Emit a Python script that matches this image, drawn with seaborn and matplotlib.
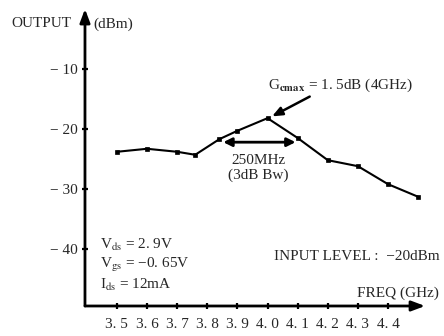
import numpy as np
import pandas as pd
import matplotlib
matplotlib.use("Agg")
import matplotlib.pyplot as plt
import seaborn as sns

# values
freq = [3.5, 3.6, 3.7, 3.76, 3.84, 3.9, 4.0, 4.1, 4.2, 4.3, 4.4, 4.5]
output = [-23.8, -23.3, -23.8, -24.3, -21.7, -20.3, -18.2, -21.5, -25.2, -26.2, -29.2, -31.3]
xticks = [3.5, 3.6, 3.7, 3.8, 3.9, 4.0, 4.1, 4.2, 4.3, 4.4]
xticklabels = ["3. 5", "3. 6", "3. 7", "3. 8", "3. 9", "4. 0", "4. 1", "4. 2", "4. 3", "4. 4"]
yticks = [-10, -20, -30, -40]
yticklabels = ["\u2212 10", "\u2212 20", "\u2212 30", "\u2212 40"]
bw_lo, bw_hi, bw_y = 3.853, 4.093, -22.2

sns.set_style("white")
plt.rcParams['font.family'] = ['Liberation Serif', 'DejaVu Serif']
plt.rcParams['mathtext.fontset'] = 'stix'

fig = plt.figure(figsize=(4.44, 3.36), dpi=100)
ax = fig.add_axes([0.1914, 0.0893, 0.766, 0.884])

df = pd.DataFrame({"freq": freq, "output": output})
sns.lineplot(data=df, x="freq", y="output", ax=ax, sort=False, color="black",
             lw=1.5, marker="s", markersize=3.5, markerfacecolor="black",
             markeredgecolor="black", markeredgewidth=0.5)

ax.set_xlim(3.394, 4.523)
ax.set_ylim(-49.5, 0)
for s in ax.spines.values():
    s.set_visible(False)
ax.set_xlabel("")
ax.set_ylabel("")

fs = 11
ax.set_xticks(xticks)
ax.set_xticklabels(xticklabels, fontsize=fs)
ax.set_yticks(yticks)
ax.set_yticklabels(yticklabels, fontsize=fs)
ax.tick_params(axis="both", direction="inout", length=5, width=1.6, color="black",
               bottom=True, left=True)
ax.tick_params(axis="x", pad=6)
ax.tick_params(axis="y", pad=3)

# axis arrows
ax.annotate("", xy=(0, 1.0), xytext=(0, 0), xycoords="axes fraction",
            arrowprops=dict(arrowstyle="-|>,head_length=0.8,head_width=0.3", lw=2, color="black",
                            shrinkA=0, shrinkB=0))
ax.annotate("", xy=(1.0, 0), xytext=(0, 0), xycoords="axes fraction",
            arrowprops=dict(arrowstyle="-|>,head_length=0.8,head_width=0.3", lw=2, color="black",
                            shrinkA=0, shrinkB=0))

ax.text(-0.215, 0.95, "OUTPUT", transform=ax.transAxes, fontsize=fs, va="center", ha="left")
ax.text(0.025, 0.95, "(dBm)", transform=ax.transAxes, fontsize=fs, va="center", ha="left")
ax.text(4.57, -47.4, "FREQ (GHz)", fontsize=fs, ha="right", va="center")

# peak annotation
ax.text(4.0, -12.7, r"G$_{\mathbf{cmax}}$ = 1. 5dB (4GHz)", fontsize=fs, ha="left", va="center")
ax.annotate("", xy=(4.015, -17.9), xytext=(4.14, -14.6),
            arrowprops=dict(arrowstyle="-|>,head_length=0.6,head_width=0.25", lw=1.8, color="black",
                            shrinkA=0, shrinkB=0))

# 3dB bandwidth
ax.annotate("", xy=(bw_lo, bw_y), xytext=(bw_hi, bw_y),
            arrowprops=dict(arrowstyle="<|-|>,head_length=0.5,head_width=0.25", lw=2, color="black",
                            shrinkA=0, shrinkB=0))
ax.text(3.97, -25.2, "250MHz", fontsize=fs, ha="center", va="center")
ax.text(3.97, -27.7, "(3dB Bw)", fontsize=fs, ha="center", va="center")

ax.text(3.444, -39.3, r"V$_{\mathrm{ds}}$ = 2. 9V", fontsize=fs, ha="left", va="center")
ax.text(3.444, -42.7, "V$_{\\mathrm{gs}}$ = \u22120. 65V", fontsize=fs, ha="left", va="center")
ax.text(3.444, -46.0, r"I$_{\mathrm{ds}}$ = 12mA", fontsize=fs, ha="left", va="center")

ax.text(4.57, -41.2, "INPUT LEVEL :  \u221220dBm", fontsize=fs, ha="right", va="center")

fig.savefig("out.png", dpi=100)
